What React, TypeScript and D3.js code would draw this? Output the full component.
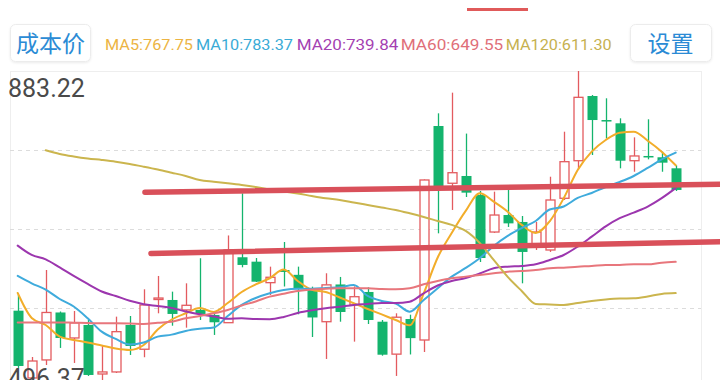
import React from 'react';
import * as d3 from 'd3';

// ---- data ----
const OPEN = [589.8, 507.4, 529.5, 587.6, 556.4, 572.3, 512.3, 514.8, 572.3, 542.6,
  603.5, 602.9, 590.7, 590.7, 584.5, 575.1, 655.2, 649.8, 624.1, 639.6,
  633.7, 615.1, 576.3, 621.9, 596.8, 612.7, 576.3, 536.6, 579.6, 553.9,
  815.9, 745.8, 754.7, 731.4, 686.1, 706.9, 698.4, 670.5, 664.1, 727.4,
  773.4, 852.6, 823.2, 819.2, 773.4, 779.2, 777.6, 764.1];
const CLOSE = [522.1, 528.2, 587.6, 556.4, 574.8, 511.1, 514.8, 564.1, 546.6, 596.8,
  605.3, 585.8, 596.4, 585.8, 575.6, 664.1, 645.8, 625.3, 630.7, 637.2,
  616.4, 581.5, 621.4, 588.2, 606.9, 578.4, 535.9, 581.8, 556.2, 749.8,
  741.8, 758.7, 734.3, 654.3, 706.9, 696.7, 661.7, 686.1, 725.3, 772.2,
  851.0, 823.2, 821.4, 773.4, 779.2, 778.0, 771.0, 737.6];
const HIGH = [609.0, 533.1, 639.6, 588.8, 589.4, 578.4, 547.2, 582.5, 583.3, 616.0,
  632.3, 613.1, 623.3, 654.0, 585.8, 681.9, 733.5, 654.3, 643.7, 673.9,
  643.7, 619.2, 635.6, 631.1, 619.6, 618.4, 578.4, 586.6, 584.9, 750.5,
  831.4, 856.7, 806.6, 736.3, 735.5, 737.6, 705.7, 698.4, 753.8, 808.9,
  883.22, 853.8, 849.8, 825.3, 802.0, 824.1, 784.5, 767.7];
const LOW = [519.7, 500.1, 523.3, 544.2, 525.8, 509.9, 496.37, 513.5, 535.6, 532.8,
  586.6, 571.4, 569.0, 578.4, 560.1, 574.7, 642.9, 624.9, 609.0, 619.4,
  585.4, 557.6, 530.7, 576.3, 551.9, 573.5, 534.7, 509.9, 536.2, 539.2,
  684.5, 713.1, 729.0, 649.4, 685.0, 692.3, 623.3, 664.1, 661.7, 725.3,
  762.9, 780.4, 800.8, 764.1, 759.9, 775.1, 759.9, 736.3];

const MA5 = [611.5, 580.9, 572.3, 558.0, 553.9, 550.9, 547.2, 543.5, 541.7, 547.8,
  566.8, 579.0, 586.6, 593.1, 588.2, 599.2, 612.7, 621.9, 629.5, 640.2,
  626.2, 615.5, 612.7, 605.9, 598.9, 591.9, 585.2, 578.4, 571.9, 611.0,
  654.9, 684.9, 711.9, 733.5, 723.3, 711.0, 694.8, 685.0, 699.2, 727.4,
  762.0, 784.5, 798.8, 807.7, 809.0, 797.9, 784.5, 767.75];
const MA10 = [632.4, 623.3, 615.5, 604.1, 594.9, 580.5, 564.1, 555.2, 548.4, 550.9,
  558.0, 560.5, 565.0, 567.6, 569.2, 583.3, 596.8, 605.3, 611.1, 615.1,
  616.6, 616.6, 617.6, 618.5, 621.3, 607.8, 601.7, 598.6, 588.6, 602.9,
  617.2, 631.5, 642.1, 654.0, 669.0, 681.3, 691.0, 699.6, 713.7, 717.4,
  727.8, 733.9, 741.2, 747.4, 754.7, 764.5, 775.1, 783.37];
const MA20 = [669.4, 658.0, 652.7, 642.7, 632.3, 622.5, 613.3, 607.8, 601.9, 597.8,
  595.5, 593.1, 588.8, 585.5, 582.7, 579.9, 580.5, 579.6, 579.4, 582.1,
  587.0, 590.3, 592.8, 594.7, 596.8, 598.0, 599.2, 599.2, 600.8, 611.1,
  620.6, 626.2, 629.8, 635.3, 641.7, 643.7, 644.5, 646.6, 651.9, 658.0,
  668.2, 680.4, 693.0, 703.0, 709.9, 717.2, 727.5, 739.84];
const MA60 = [575.4, 575.4, 575.4, 575.4, 575.1, 574.7, 574.3, 574.3, 574.1, 573.5,
  575.1, 576.3, 580.5, 583.3, 586.6, 590.7, 596.2, 601.1, 607.0, 610.6,
  613.9, 615.8, 616.6, 617.2, 617.2, 617.2, 616.4, 616.1, 617.2, 622.2,
  626.2, 629.5, 631.5, 633.6, 635.6, 637.6, 638.4, 639.6, 641.7, 642.5,
  643.7, 644.5, 645.8, 645.8, 646.6, 646.6, 648.6, 649.55];
const MA120 = [null, null, 786.2, 781.7, 778.6, 776.1, 774.3, 772.2, 769.4, 766.1,
  762.6, 758.7, 754.7, 749.8, 747.7, 745.8, 743.7, 741.2, 738.2, 735.7,
  733.3, 730.2, 727.4, 725.3, 722.3, 719.2, 716.1, 713.1, 709.0, 704.5,
  699.6, 694.8, 687.4, 672.7, 651.9, 631.1, 614.0, 598.1, 597.5, 596.8,
  599.2, 601.7, 603.5, 604.7, 605.0, 607.2, 610.3, 611.30];

const PRICE_MAX = 883.22;
const PRICE_MIN = 496.37;
const PRICE_LABELS = ['883.22', '496.37'];
const LEGEND_NAMES = ['MA5', 'MA10', 'MA20', 'MA60', 'MA120'];
const LEGEND_VALUES = ['767.75', '783.37', '739.84', '649.55', '611.30'];
// hand-drawn trend lines: [startIndex, startPrice, endIndex, endPrice]
const TREND_LINES = [
  [9.09, 734.7, 50.16, 744.5],
  [9.52, 659.8, 50.16, 674.3],
];

const MA_COLORS = ['#f2ad2a', '#3fabdc', '#9c36ae', '#e8767c', '#cbb54e'];
const LEGEND_COLORS = ['#ecb443', '#3aabd6', '#a43fb2', '#df6f79', '#c6b14f'];
const UP = '#e35b5f';
const DOWN = '#14b46d';

export default function App() {
  const W = 720, H = 380;
  const n = CLOSE.length;
  const x = d3.scaleLinear().domain([0, n - 1]).range([17.7, 675.7]);
  const y = d3.scaleLinear().domain([PRICE_MIN, PRICE_MAX]).range([387, 71]);
  const bw = 10;

  const line = d3.line<number | null>()
    .defined(v => v != null)
    .x((_, i) => x(i))
    .y(v => y(v as number))
    .curve(d3.curveMonotoneX);

  const series = [MA5, MA10, MA20, MA60, MA120];
  const gridYs = [150, 229, 308];
  const legendX = [105, 196, 296.7, 400.7, 505.7];
  const legendW = [88, 97, 101.6, 102.6, 106];

  return (
    <svg width={W} height={H} style={{ position: 'absolute', left: 0, top: 0, background: '#fff' }}
      fontFamily="Roboto, 'Noto Sans', sans-serif">
      <defs>
        <filter id="btnShadow" x="-10%" y="-20%" width="120%" height="140%">
          <feDropShadow dx="0" dy="1" stdDeviation="1.2" floodColor="#000" floodOpacity="0.08" />
        </filter>
      </defs>
      <rect x={0} y={0} width={W} height={H} fill="#fff" />
      {/* top red marker */}
      <line x1={467} x2={528} y1={9.5} y2={9.5} stroke="#e05a5a" strokeWidth={3} />
      {/* buttons */}
      <rect x={10.5} y={24.5} width={80} height={37} rx={5} fill="#fff" stroke="#ececec" filter="url(#btnShadow)" />
      <text x={50.5} y={51.5} textAnchor="middle" fontSize={23} fill="#2b8bd5"
        fontFamily="'Noto Sans CJK SC', sans-serif">成本价</text>
      <rect x={630.5} y={24.5} width={81} height={37} rx={5} fill="#fff" stroke="#ececec" filter="url(#btnShadow)" />
      <text x={670.5} y={51.5} textAnchor="middle" fontSize={23} fill="#2b8bd5"
        fontFamily="'Noto Sans CJK SC', sans-serif">设置</text>
      {/* legend */}
      {LEGEND_NAMES.map((name, i) => (
        <text key={name} x={legendX[i]} y={49.5} fontSize={15.5} fill={LEGEND_COLORS[i]}
          textLength={legendW[i]} lengthAdjust="spacingAndGlyphs">{`${name}:${LEGEND_VALUES[i]}`}</text>
      ))}
      {/* frame & grid */}
      <line x1={10} x2={701} y1={71.5} y2={71.5} stroke="#eeeeee" />
      <line x1={10.5} x2={10.5} y1={71} y2={H} stroke="#eeeeee" />
      <line x1={701.5} x2={701.5} y1={71} y2={H} stroke="#eeeeee" />
      {gridYs.map(g => (
        <line key={g} x1={10} x2={701} y1={g + 0.5} y2={g + 0.5} stroke="#dcdcdc" strokeDasharray="4 4" />
      ))}
      {/* candles */}
      {CLOSE.map((c, i) => {
        const o = OPEN[i];
        const up = c >= o;
        const cx = Math.round(x(i)) + 0.5;
        const top = y(Math.max(o, c));
        const bot = y(Math.min(o, c));
        const hi = y(HIGH[i]);
        const lo = y(LOW[i]);
        const h = Math.max(1.5, bot - top);
        if (up) {
          return (
            <g key={i} stroke={UP} strokeWidth={1.3}>
              <line x1={cx} x2={cx} y1={hi} y2={top} />
              <line x1={cx} x2={cx} y1={top + h} y2={lo} />
              <rect x={cx - bw / 2 + 0.5} y={top} width={bw - 1} height={h} fill="#fff" />
            </g>
          );
        }
        return (
          <g key={i}>
            <line x1={cx} x2={cx} y1={hi} y2={lo} stroke={DOWN} strokeWidth={1.3} />
            <rect x={cx - bw / 2} y={top} width={bw} height={h} fill={DOWN} />
          </g>
        );
      })}
      {/* moving averages */}
      {series.map((s, k) => (
        <path key={k} d={line(s as (number | null)[]) || ''} fill="none" stroke={MA_COLORS[k]}
          strokeWidth={2} strokeLinejoin="round" strokeLinecap="round" />
      ))}
      {/* trend lines */}
      {TREND_LINES.map((t, k) => (
        <line key={k} x1={x(t[0])} y1={y(t[1])} x2={x(t[2])} y2={y(t[3])}
          stroke="#d9505a" strokeWidth={5.5} strokeLinecap="round" />
      ))}
      {/* price labels (the bottom one is clipped by the frame edge, as in the reference) */}
      <text x={8} y={96.5} fontSize={25} fill="#4a4a4a">{PRICE_LABELS[0]}</text>
      <text x={8} y={387} fontSize={25} fill="#4a4a4a">{PRICE_LABELS[1]}</text>
    </svg>
  );
}
